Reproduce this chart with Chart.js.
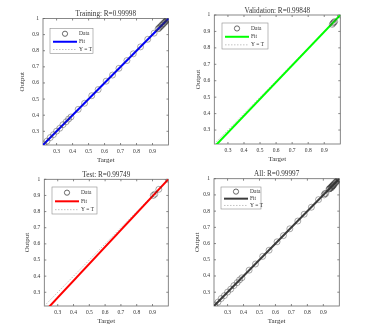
<!DOCTYPE html>
<html>
<head>
<meta charset="utf-8">
<title>Regression</title>
<script src="https://cdn.jsdelivr.net/npm/chart.js@4.4.1/dist/chart.umd.min.js"></script>
<style>
  body { margin: 0; background: #fff; }
  #wrap { position: relative; width: 367px; height: 332px; overflow: hidden; }
  #wrap canvas { position: absolute; }
</style>
</head>
<body>
<div id="wrap">
  <canvas id="train" width="185" height="166" style="left:0;top:0"></canvas>
  <canvas id="valid" width="182" height="166" style="left:185px;top:0"></canvas>
  <canvas id="test" width="185" height="166" style="left:0;top:166px"></canvas>
  <canvas id="all" width="182" height="166" style="left:185px;top:166px"></canvas>
</div>
<script>
// axis limits and tick values (same for every panel)
const axisMin = 0.215;
const axisMax = 1.0;
const xTicks = [0.3, 0.4, 0.5, 0.6, 0.7, 0.8, 0.9];
const yTicks = [0.3, 0.4, 0.5, 0.6, 0.7, 0.8, 0.9, 1];

// training set
const trainTarget = [0.22, 0.24, 0.26, 0.28, 0.30, 0.32, 0.34, 0.36, 0.375, 0.39,
  0.435, 0.475, 0.52, 0.56, 0.61, 0.65, 0.69, 0.74, 0.78, 0.825, 0.87, 0.91,
  0.935, 0.94, 0.945, 0.95, 0.955, 0.96, 0.965, 0.97, 0.975, 0.98, 0.985, 0.99, 0.993, 0.996, 0.998, 1.0];
const trainOutput = [0.221, 0.239, 0.261, 0.279, 0.301, 0.319, 0.341, 0.359, 0.376, 0.389,
  0.436, 0.474, 0.521, 0.559, 0.611, 0.649, 0.691, 0.739, 0.781, 0.824, 0.871, 0.909,
  0.936, 0.939, 0.946, 0.949, 0.956, 0.959, 0.966, 0.969, 0.976, 0.979, 0.986, 0.989, 0.994, 0.995, 0.999, 1.0];

// validation set
const validTarget = [0.95, 0.955, 0.96, 0.965, 1.0];
const validOutput = [0.943, 0.95, 0.955, 0.96, 1.0];

// test set
const testTarget = [0.905, 0.915, 0.94, 1.0];
const testOutput = [0.9, 0.908, 0.938, 1.0];

// all samples together
const allTarget = trainTarget.concat(validTarget, testTarget);
const allOutput = trainOutput.concat(validOutput, testOutput);

const panelTitles = ['Training: R=0.99998', 'Validation: R=0.99848', 'Test: R=0.99749', 'All: R=0.99997'];
const fitSlope = [1.0, 1.022, 1.047, 1.0];
const fitIntercept = [0.0, -0.022, -0.047, 0.0];
const fitColors = ['#0000ff', '#00ff00', '#ff0000', '#3c3c3c'];
const legendLabels = ['Data', 'Fit', 'Y = T'];

const serif = 'Liberation Serif, Times New Roman, serif';
const textColor = '#333';
const markerColor = 'rgba(50,50,50,0.6)';

// box frame, inward ticks and the little legend
const matlabBox = {
  id: 'matlabBox',
  beforeDatasetsDraw(chart) {
    const { ctx, chartArea: a, scales: { x, y } } = chart;
    ctx.save();
    ctx.strokeStyle = '#6a6a6a';
    ctx.lineWidth = 0.8;
    ctx.strokeRect(a.left, a.top, a.right - a.left, a.bottom - a.top);
    ctx.beginPath();
    xTicks.forEach(v => {
      const px = x.getPixelForValue(v);
      ctx.moveTo(px, a.bottom); ctx.lineTo(px, a.bottom - 2);
      ctx.moveTo(px, a.top); ctx.lineTo(px, a.top + 2);
    });
    yTicks.forEach(v => {
      const py = y.getPixelForValue(v);
      ctx.moveTo(a.left, py); ctx.lineTo(a.left + 2, py);
      ctx.moveTo(a.right, py); ctx.lineTo(a.right - 2, py);
    });
    ctx.stroke();
    ctx.restore();
  },
  afterDatasetsDraw(chart, args, opts) {
    const { ctx, chartArea: a } = chart;
    const [dx, dy, w, h] = opts.box;
    const bx = a.left + dx, by = a.top + dy;
    const rows = [h * 0.21, h * 0.53, h * 0.84];
    ctx.save();
    ctx.fillStyle = '#fff';
    ctx.fillRect(bx, by, w, h);
    ctx.strokeStyle = '#8c8c8c';
    ctx.lineWidth = 0.6;
    ctx.strokeRect(bx, by, w, h);

    ctx.strokeStyle = '#444';
    ctx.lineWidth = 0.8;
    ctx.beginPath();
    ctx.arc(bx + 15, by + rows[0], 2.6, 0, Math.PI * 2);
    ctx.stroke();

    ctx.strokeStyle = opts.fitColor;
    ctx.lineWidth = 2;
    ctx.beginPath();
    ctx.moveTo(bx + 3, by + rows[1]); ctx.lineTo(bx + 27, by + rows[1]);
    ctx.stroke();

    ctx.strokeStyle = '#b4b4b4';
    ctx.lineWidth = 0.8;
    ctx.setLineDash([1.5, 1.5]);
    ctx.beginPath();
    ctx.moveTo(bx + 3, by + rows[2]); ctx.lineTo(bx + 27, by + rows[2]);
    ctx.stroke();
    ctx.setLineDash([]);

    ctx.fillStyle = textColor;
    ctx.font = '5.5px ' + serif;
    ctx.textBaseline = 'middle';
    ctx.textAlign = 'left';
    legendLabels.forEach((t, i) => ctx.fillText(t, bx + 29, by + rows[i]));
    ctx.restore();
  }
};

const tickText = v => String(+Number(v).toFixed(2));

// area = chart box inside the canvas: left, top, right, bottom
function makePanel(id, idx, target, output, area, yTitleX, legendBox) {
  const canvas = document.getElementById(id);
  const W = canvas.width, H = canvas.height;
  const titleLH = 7.2 * 1.2;
  const axisLH = 7 * 1.2;
  const pts = target.map((t, i) => ({ x: t, y: output[i] }));
  const m = fitSlope[idx], b = fitIntercept[idx];

  return new Chart(canvas, {
    type: 'scatter',
    data: {
      datasets: [
        {
          label: legendLabels[0], data: pts, order: 0,
          pointStyle: 'circle', pointRadius: 3, pointBorderWidth: 0.7,
          pointBorderColor: markerColor, pointBackgroundColor: 'rgba(0,0,0,0)'
        },
        {
          label: legendLabels[1], order: 1, showLine: true, pointRadius: 0,
          borderColor: fitColors[idx], borderWidth: 2,
          data: [{ x: axisMin, y: m * axisMin + b }, { x: axisMax, y: m * axisMax + b }]
        },
        {
          label: legendLabels[2], order: 2, showLine: true, pointRadius: 0,
          borderColor: '#b4b4b4', borderWidth: 0.8, borderDash: [1.5, 1.5],
          data: [{ x: axisMin, y: axisMin }, { x: axisMax, y: axisMax }]
        }
      ]
    },
    options: {
      responsive: false,
      animation: false,
      events: [],
      layout: { padding: { left: 0, top: 0, right: W - area[2], bottom: 0 } },
      plugins: {
        legend: { display: false },
        tooltip: { enabled: false },
        title: {
          display: true, text: panelTitles[idx], fullSize: false,
          color: textColor, font: { family: serif, size: 7.2, weight: 'normal', lineHeight: 1.2 },
          padding: { top: area[1] - titleLH, bottom: 0 }
        },
        matlabBox: { box: legendBox, fitColor: fitColors[idx] }
      },
      scales: {
        x: {
          type: 'linear', min: axisMin, max: axisMax,
          afterBuildTicks: s => { s.ticks = xTicks.map(v => ({ value: v })); },
          afterFit: s => { s.height = H - area[3]; },
          grid: { display: false, drawTicks: false },
          border: { display: false },
          ticks: { color: textColor, font: { family: serif, size: 5.5 }, padding: 3, maxRotation: 0, callback: tickText },
          title: {
            display: true, text: 'Target', color: textColor,
            font: { family: serif, size: 7, lineHeight: 1.2 },
            padding: { top: 0, bottom: (H - area[3]) - 15 - axisLH / 2 }
          }
        },
        y: {
          type: 'linear', min: axisMin, max: axisMax,
          afterBuildTicks: s => { s.ticks = yTicks.map(v => ({ value: v })); },
          afterFit: s => { s.width = area[0]; },
          grid: { display: false, drawTicks: false },
          border: { display: false },
          ticks: { color: textColor, font: { family: serif, size: 5.5 }, padding: 4, callback: tickText },
          title: {
            display: true, text: 'Output', color: textColor,
            font: { family: serif, size: 7, lineHeight: 1.2 },
            padding: { top: yTitleX - axisLH / 2, bottom: 0 }
          }
        }
      }
    },
    plugins: [matlabBox]
  });
}

makePanel('train', 0, trainTarget, trainOutput, [43, 18.5, 168.5, 145], 22, [7, 10, 43, 25]);
makePanel('valid', 1, validTarget, validOutput, [29.3, 15, 155.3, 144], 12.7, [7.7, 8, 46, 26]);
makePanel('test', 2, testTarget, testOutput, [44.3, 13.3, 168.3, 140], 26.7, [7.7, 7.7, 45, 27]);
makePanel('all', 3, allTarget, allOutput, [29, 12.7, 154.3, 140], 11.7, [7, 8.3, 40, 22]);
</script>
</body>
</html>
